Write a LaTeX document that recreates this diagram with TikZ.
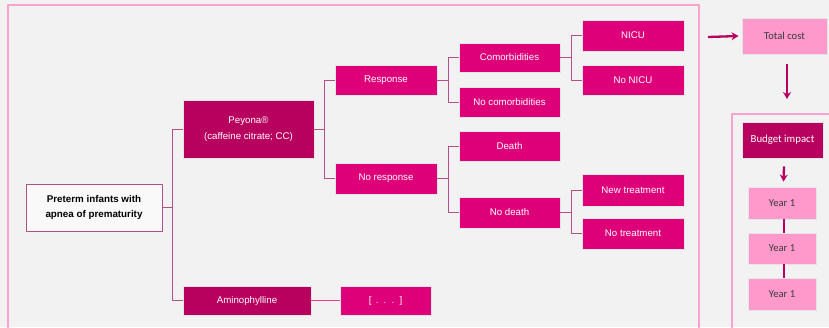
\documentclass[tikz,border=0pt]{standalone}
\usepackage{fontspec}
\setmainfont{Liberation Sans}
\newfontfamily\calib{Carlito}
\usepackage{xcolor}
\usetikzlibrary{arrows.meta,shadows}

\definecolor{bgGrey}{HTML}{F2F2F2}
\definecolor{frPink}{HTML}{F6A3CF}
\definecolor{mgDark}{HTML}{B8005E}
\definecolor{mgBright}{HTML}{DE0078}
\definecolor{mgLight}{HTML}{FF99CC}
\definecolor{lnPink}{HTML}{B45089}
\definecolor{txDark}{HTML}{3A3A3A}

\begin{document}
\begin{tikzpicture}[x=1pt, y=-1pt, >=Stealth, line join=round,
  box/.style={rectangle, draw=white!90!black, line width=0.9pt, inner sep=1pt,
    align=center, text=white, font=\fontsize{9.7pt}{15.6pt}\selectfont,
    drop shadow={shadow xshift=1.3pt, shadow yshift=-1.3pt, opacity=0.28, fill=black}},
  darkbox/.style={box, fill=mgDark},
  brightbox/.style={box, fill=mgBright},
  lightbox/.style={box, fill=mgLight, text=txDark, font=\calib\fontsize{10.6pt}{13pt}\selectfont},
  rootbox/.style={box, draw=lnPink, fill=white!55!bgGrey, text=black,
    font=\bfseries\fontsize{9.8pt}{15.6pt}\selectfont},
  link/.style={draw=lnPink, line width=0.8pt},
  frame/.style={draw=frPink, line width=2.2pt},
  arr/.style={draw=mgDark, line width=2.3pt, arrows={-Stealth[length=7pt, width=8pt]}},
  yrlink/.style={draw=mgDark, line width=2.8pt}]
  \clip (0,0) rectangle (829,327);
  \fill[bgGrey] (0,0) rectangle (829,327);
  \draw[frame] (8,5) rectangle (699,345);
  \draw[frame] (732,114) rectangle (850,345);

  % decision tree
  \node[rootbox, minimum width=136pt, minimum height=47pt] (pre) at (94,207.5) {Preterm infants with\\apnea of prematurity};
  \node[darkbox, minimum width=131pt, minimum height=58pt] (pey) at (248.5,129) {Peyona®\\(caffeine citrate; CC)};
  \node[darkbox, minimum width=128pt, minimum height=29pt] (ami) at (247,300.5) {Aminophylline};
  \node[brightbox, minimum width=91pt, minimum height=29pt] (etc) at (385.5,300.5) {[ \,.\, .\, .\, ]};
  \node[brightbox, minimum width=102pt, minimum height=30pt] (resp) at (386,80) {Response};
  \node[brightbox, minimum width=102pt, minimum height=31pt] (nresp) at (386,178.5) {No response};
  \node[brightbox, minimum width=101pt, minimum height=29pt] (com) at (509.5,57.5) {Comorbidities};
  \node[brightbox, minimum width=101pt, minimum height=30pt] (ncom) at (509.5,102) {No comorbidities};
  \node[brightbox, minimum width=101pt, minimum height=30pt] (death) at (509.5,146) {Death};
  \node[brightbox, minimum width=101pt, minimum height=31pt] (ndeath) at (509.5,212.5) {No death};
  \node[brightbox, minimum width=102pt, minimum height=31pt] (nicu) at (633,35.5) {NICU};
  \node[brightbox, minimum width=102pt, minimum height=30pt] (nnicu) at (633,80) {No NICU};
  \node[brightbox, minimum width=102pt, minimum height=32pt] (newtr) at (633,190) {New treatment};
  \node[brightbox, minimum width=102pt, minimum height=31pt] (notr) at (633,233.5) {No treatment};

  \draw[link] (pre.east) -- ++(10,0) |- (pey.west);
  \draw[link] (pre.east) -- ++(10,0) |- (ami.west);
  \draw[link, draw=mgBright!75] (ami.east) -- (etc.west);
  \draw[link] (pey.east) -- ++(10,0) |- (resp.west);
  \draw[link] (pey.east) -- ++(10,0) |- (nresp.west);
  \draw[link] (resp.east) -- ++(11,0) |- (com.west);
  \draw[link] (resp.east) -- ++(11,0) |- (ncom.west);
  \draw[link] (nresp.east) -- ++(11,0) |- (death.west);
  \draw[link] (nresp.east) -- ++(11,0) |- (ndeath.west);
  \draw[link] (com.east) -- ++(11,0) |- (nicu.west);
  \draw[link] (com.east) -- ++(11,0) |- (nnicu.west);
  \draw[link] (ndeath.east) -- ++(11,0) |- (newtr.west);
  \draw[link] (ndeath.east) -- ++(11,0) |- (notr.west);

  % cost side
  \node[lightbox, minimum width=85pt, minimum height=36pt] (tot) at (784.5,36) {Total cost};
  \node[darkbox, font=\calib\fontsize{10.8pt}{13pt}\selectfont, minimum width=81pt, minimum height=36pt] (bud) at (782.5,140) {Budget impact};
  \node[lightbox, minimum width=68pt, minimum height=32pt] (yr1) at (782,203) {Year 1};
  \node[lightbox, minimum width=68pt, minimum height=31pt] (yr2) at (782,248.5) {Year 1};
  \node[lightbox, minimum width=68pt, minimum height=32pt] (yr3) at (782,294) {Year 1};

  \coordinate (treeout) at (708,37);
  \coordinate (costdown) at (787,64);
  \coordinate (bitop) at (787,99);
  \draw[arr] (treeout) -- ([xshift=-3pt]tot.west);
  \draw[arr] (costdown) -- (bitop);
  \draw[arr] ([xshift=1.5pt,yshift=-8pt]bud.south) -- ([xshift=1.5pt,yshift=5pt]yr1.north);
  \draw[yrlink] ([xshift=2pt]yr1.south) -- ([xshift=2pt]yr2.north);
  \draw[yrlink] ([xshift=2pt]yr2.south) -- ([xshift=2pt]yr3.north);
\end{tikzpicture}
\end{document}
